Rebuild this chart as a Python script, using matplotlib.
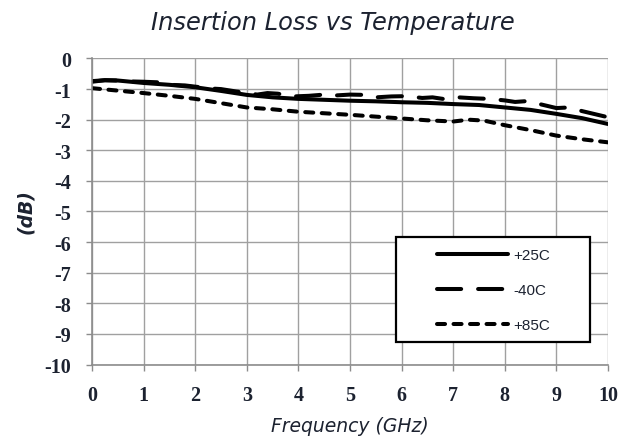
import matplotlib
matplotlib.use("Agg")
import matplotlib.pyplot as plt
from matplotlib.patches import Rectangle

plt.rcParams["axes.unicode_minus"] = False

freq_25 = [0, 0.25, 0.5, 0.75, 1.0, 1.5, 2.0, 2.5, 3.0, 3.5, 4.0, 4.5, 5.0, 5.5, 6.0, 6.5, 7.0, 7.5, 8.0, 8.5, 9.0, 9.5, 10.0]
loss_25 = [-0.76, -0.71, -0.72, -0.76, -0.80, -0.86, -0.94, -1.06, -1.19, -1.27, -1.32, -1.35, -1.38, -1.40, -1.43, -1.45, -1.49, -1.52, -1.60, -1.68, -1.81, -1.95, -2.14]

freq_m40 = [0, 0.25, 0.5, 0.75, 1.0, 1.3, 1.5, 1.8, 2.0, 2.3, 2.5, 2.8, 3.0, 3.2, 3.4, 3.6, 3.9, 4.2, 4.5, 4.7, 5.0, 5.3, 5.5, 5.8, 6.1, 6.4, 6.6, 6.8, 7.1, 7.4, 7.7, 8.0, 8.2, 8.45, 8.7, 9.0, 9.25, 9.5, 9.9, 10.0]
loss_m40 = [-0.74, -0.71, -0.72, -0.75, -0.76, -0.78, -0.86, -0.88, -0.92, -0.98, -1.00, -1.08, -1.12, -1.18, -1.13, -1.15, -1.24, -1.22, -1.18, -1.21, -1.18, -1.19, -1.27, -1.24, -1.23, -1.29, -1.27, -1.32, -1.27, -1.30, -1.32, -1.37, -1.42, -1.39, -1.50, -1.62, -1.60, -1.72, -1.88, -1.92]

freq_85 = [0, 0.5, 1.0, 1.5, 2.0, 2.5, 3.0, 3.5, 4.0, 4.5, 5.0, 5.5, 6.0, 6.5, 7.0, 7.3, 7.6, 8.0, 8.5, 9.0, 9.5, 10.0]
loss_85 = [-0.97, -1.05, -1.13, -1.22, -1.32, -1.46, -1.60, -1.66, -1.74, -1.79, -1.84, -1.90, -1.96, -2.02, -2.06, -2.00, -2.03, -2.18, -2.34, -2.52, -2.64, -2.74]

labels = ["+25C", "-40C", "+85C"]
title = "Insertion Loss vs Temperature"
xlabel = "Frequency (GHz)"
ylabel = "(dB)"
xticks = list(range(0, 11))
yticks = list(range(-10, 1))

txt_color = "#1c2230"
fig = plt.figure(figsize=(6.31, 4.39), dpi=100)
ax = fig.add_axes([0.1458, 0.1674, 0.8177, 0.6971])

LW = 2.9
ax.plot(freq_25, loss_25, color="black", lw=LW, ls="-", label=labels[0], solid_capstyle="round")
ax.plot(freq_m40, loss_m40, color="black", lw=LW, ls=(0, (6.0, 4.2)), label=labels[1], dash_capstyle="round")
ax.plot(freq_85, loss_85, color="black", lw=LW, ls=(0, (2.0, 2.1)), label=labels[2], dash_capstyle="round")

ax.set_xlim(0, 10)
ax.set_ylim(-10, 0)
ax.set_xticks(xticks)
ax.set_yticks(yticks)
ax.grid(True, color="#a0a0a0", lw=1.0)
ax.set_axisbelow(True)
for s in ax.spines.values():
    s.set_visible(False)
for side in ("left", "bottom"):
    ax.spines[side].set_visible(True)
    ax.spines[side].set_color("#8c8c8c")
    ax.spines[side].set_linewidth(1.2)
ax.tick_params(axis="both", direction="out", length=4.5, width=1.0, color="#8c8c8c",
               labelsize=14.5, labelcolor=txt_color, pad=10.5)
for lab in ax.get_xticklabels() + ax.get_yticklabels():
    lab.set_fontfamily("Liberation Serif")
    lab.set_fontweight("bold")

fig.text(0.528, 0.932, title, ha="center", va="baseline", fontsize=17.4, style="italic",
         family="DejaVu Sans", color=txt_color)
fig.text(0.5547, 0.017, xlabel, ha="center", va="baseline", fontsize=13.5, style="italic",
         family="DejaVu Sans", color=txt_color)
fig.text(0.041, 0.518, ylabel, ha="center", va="center", fontsize=13.5, style="italic",
         weight="bold", family="DejaVu Sans", rotation=90, color=txt_color)

box = Rectangle((0.590, 0.0725), 0.375, 0.343, transform=ax.transAxes, facecolor="white",
                edgecolor="black", lw=1.6, zorder=5)
ax.add_patch(box)
leg = ax.legend(loc="center", bbox_to_anchor=(0.779, 0.243), frameon=False,
                handlelength=4.6, handletextpad=0.4, labelspacing=1.38, borderpad=0.0,
                prop={"family": "Liberation Sans", "size": 11})
leg.set_zorder(6)
for t in leg.get_texts():
    t.set_color(txt_color)

fig.savefig("out.png", dpi=100)
